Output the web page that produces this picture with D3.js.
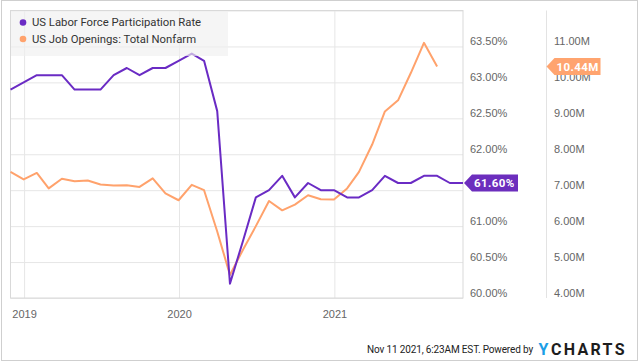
<!DOCTYPE html>
<html>
<head>
<meta charset="utf-8">
<script src="https://cdn.jsdelivr.net/npm/d3@7"></script>
<style>
    body { margin: 0; background: #fff; }
    svg { display: block; font-family: Roboto, "Open Sans", sans-serif; }
    .grid line { stroke: #e6e6e6; }
    .axis text { fill: #666; font-size: 11px; }
</style>
</head>
<body>
<div id="graph"></div>
<script>
// monthly observations, dated at month end
const months = [
    '2018-11', '2018-12',
    '2019-01', '2019-02', '2019-03', '2019-04', '2019-05', '2019-06',
    '2019-07', '2019-08', '2019-09', '2019-10', '2019-11', '2019-12',
    '2020-01', '2020-02', '2020-03', '2020-04', '2020-05', '2020-06',
    '2020-07', '2020-08', '2020-09', '2020-10', '2020-11', '2020-12',
    '2021-01', '2021-02', '2021-03', '2021-04', '2021-05', '2021-06',
    '2021-07', '2021-08', '2021-09', '2021-10'
];
// US Labor Force Participation Rate (%)
const participation = [
    62.9, 63.0,
    63.1, 63.1, 63.1, 62.9, 62.9, 62.9, 63.1, 63.2, 63.1, 63.2, 63.2, 63.3,
    63.4, 63.3, 62.6, 60.2, 60.8, 61.4, 61.5, 61.7, 61.4, 61.6, 61.5, 61.5,
    61.4, 61.4, 61.5, 61.7, 61.6, 61.6, 61.7, 61.7, 61.6, 61.6
];
// US Job Openings: Total Nonfarm (millions), ends Aug 2021
const openings = [
    7.51, 7.30,
    7.48, 7.05, 7.32, 7.25, 7.27, 7.16, 7.13, 7.14, 7.09, 7.33, 6.91, 6.72,
    7.15, 7.00, 5.85, 4.64, 5.35, 6.00, 6.70, 6.44, 6.60, 6.86, 6.75, 6.74,
    7.05, 7.51, 8.27, 9.19, 9.50, 10.26, 11.10, 10.44
];
const seriesNames = ['US Labor Force Participation Rate', 'US Job Openings: Total Nonfarm'];
const yearTicks = ['2019', '2020', '2021'];
const leftTicks = [60.0, 60.5, 61.0, 61.5, 62.0, 62.5, 63.0, 63.5];
const rightTicks = [4, 5, 6, 7, 8, 9, 10, 11];

const purple = '#6a2bc4';
const orange = '#ffa26c';

function showChart() {
    const W = 640, H = 362;
    const plot = {left: 10.5, top: 10.5, right: 463, bottom: 298};

    const svg = d3.select('#graph').append('svg')
        .attr('width', W)
        .attr('height', H);

    // outer frame
    svg.append('rect')
        .attr('x', 1.5).attr('y', 0.5)
        .attr('width', 636).attr('height', 360)
        .attr('fill', '#fff')
        .attr('stroke', '#cfcfcf');

    const monthEnd = function(m) {
        const d = d3.timeParse('%Y-%m')(m);
        return d3.timeDay.offset(d3.timeMonth.offset(d, 1), -1);
    };
    const dates = months.map(monthEnd);

    const x = d3.scaleTime()
        .domain([dates[0], dates[dates.length - 1]])
        .range([plot.left, plot.right]);
    const yL = d3.scaleLinear().domain([60, 64]).range([plot.bottom, plot.top]);
    const yR = d3.scaleLinear().domain([4, 12]).range([plot.bottom, plot.top]);

    const yearDates = yearTicks.map(y => d3.timeParse('%Y')(y));
    const lastL = participation[participation.length - 1];
    const lastR = openings[openings.length - 1];

    // horizontal gridlines
    svg.append('g')
        .attr('class', 'grid')
        .attr('transform', `translate(${plot.left},0)`)
        .call(d3.axisLeft(yL).tickValues(leftTicks.concat([64])).tickSize(-(plot.right - plot.left)).tickFormat(''))
        .call(g => g.select('.domain').remove());

    // vertical gridlines
    svg.append('g')
        .attr('class', 'grid')
        .attr('transform', `translate(0,${plot.bottom})`)
        .call(d3.axisBottom(x).tickValues(yearDates).tickSize(-(plot.bottom - plot.top)).tickFormat(''))
        .call(g => g.select('.domain').remove());

    // plot frame + separator
    svg.append('rect')
        .attr('x', plot.left).attr('y', plot.top)
        .attr('width', plot.right - plot.left).attr('height', plot.bottom - plot.top)
        .attr('fill', 'none').attr('stroke', '#d9d9d9');
    svg.append('line')
        .attr('x1', 546.5).attr('x2', 546.5)
        .attr('y1', plot.top).attr('y2', plot.bottom)
        .attr('stroke', '#e3e3e3');

    // x labels
    svg.append('g')
        .attr('class', 'axis')
        .attr('transform', `translate(0,${plot.bottom})`)
        .call(d3.axisBottom(x).tickValues(yearDates).tickSize(0).tickPadding(12).tickFormat(d3.timeFormat('%Y')))
        .call(g => g.select('.domain').remove());

    // left value axis (sits to the right of plot); the label under the flag is hidden
    const shownLeft = leftTicks.filter(t => Math.abs(yL(t) - 6 - yL(lastL)) > 10);
    svg.append('g')
        .attr('class', 'axis')
        .attr('transform', 'translate(470,0)')
        .call(d3.axisRight(yL).tickValues(shownLeft).tickSize(0).tickPadding(0).tickFormat(d => d3.format('.2f')(d) + '%'))
        .call(g => g.select('.domain').remove())
        .call(g => g.selectAll('text').attr('dy', '-0.18em'));

    // right value axis
    svg.append('g')
        .attr('class', 'axis')
        .attr('transform', 'translate(554,0)')
        .call(d3.axisRight(yR).tickValues(rightTicks).tickSize(0).tickPadding(0).tickFormat(d => d3.format('.2f')(d) + 'M'))
        .call(g => g.select('.domain').remove())
        .call(g => g.selectAll('text').attr('dy', '-0.18em'));

    // lines
    const lineL = d3.line()
        .x((d, i) => x(dates[i]))
        .y(d => yL(d));
    const lineR = d3.line()
        .x((d, i) => x(dates[i]))
        .y(d => yR(d));

    svg.append('path')
        .datum(openings)
        .attr('fill', 'none')
        .attr('stroke', orange)
        .attr('stroke-width', 2)
        .attr('stroke-linejoin', 'round')
        .attr('d', lineR);

    svg.append('path')
        .datum(participation)
        .attr('fill', 'none')
        .attr('stroke', purple)
        .attr('stroke-width', 2)
        .attr('stroke-linejoin', 'round')
        .attr('d', lineL);

    // legend
    const legend = svg.append('g');
    legend.append('rect')
        .attr('x', plot.left + 0.5).attr('y', plot.top + 0.5)
        .attr('width', 217).attr('height', 45)
        .attr('fill', 'rgba(240,240,240,0.65)');
    const colors = [purple, orange];
    seriesNames.forEach(function(name, i) {
        legend.append('circle')
            .attr('cx', 23).attr('cy', 22.5 + i * 16.5)
            .attr('r', 3.3)
            .attr('fill', colors[i]);
        legend.append('text')
            .attr('x', 32).attr('y', 22.5 + i * 16.5)
            .attr('dy', '0.35em')
            .attr('fill', '#333')
            .style('font-size', '11.3px')
            .text(name);
    });

    // end-value flags
    function flag(xTip, yVal, text, color) {
        const h = 17, w = 46;
        const g = svg.append('g');
        g.append('path')
            .attr('d', `M${xTip},${yVal} L${xTip + 8},${yVal - h / 2} L${xTip + 8 + w},${yVal - h / 2} L${xTip + 8 + w},${yVal + h / 2} L${xTip + 8},${yVal + h / 2} Z`)
            .attr('fill', color);
        g.append('text')
            .attr('x', xTip + 10).attr('y', yVal)
            .attr('dy', '0.36em')
            .attr('fill', '#fff')
            .style('font-size', '11.5px')
            .style('font-weight', 'bold')
            .style('letter-spacing', '0.4px')
            .text(text);
    }
    flag(464, yL(lastL), d3.format('.2f')(lastL) + '%', '#6c2ebd');
    flag(546.5, yR(lastR), d3.format('.2f')(lastR) + 'M', '#ffa46f');

    // footer
    svg.append('text')
        .attr('x', 533).attr('y', 353)
        .attr('text-anchor', 'end')
        .attr('fill', '#222')
        .style('font-size', '10px')
        .style('letter-spacing', '-0.15px')
        .text('Nov 11 2021, 6:23AM EST.  Powered by');
    const logo = svg.append('text')
        .attr('x', 538.5).attr('y', 354.5)
        .style('font-size', '16px')
        .style('font-weight', 'bold');
    logo.append('tspan').attr('fill', '#1b9ee6').text('Y');
    logo.append('tspan')
        .attr('fill', '#1d1d1d')
        .attr('dx', 2.5)
        .style('letter-spacing', '2.3px')
        .text('CHARTS');
}

document.addEventListener('DOMContentLoaded', function() {
    showChart();
});
</script>
</body>
</html>
